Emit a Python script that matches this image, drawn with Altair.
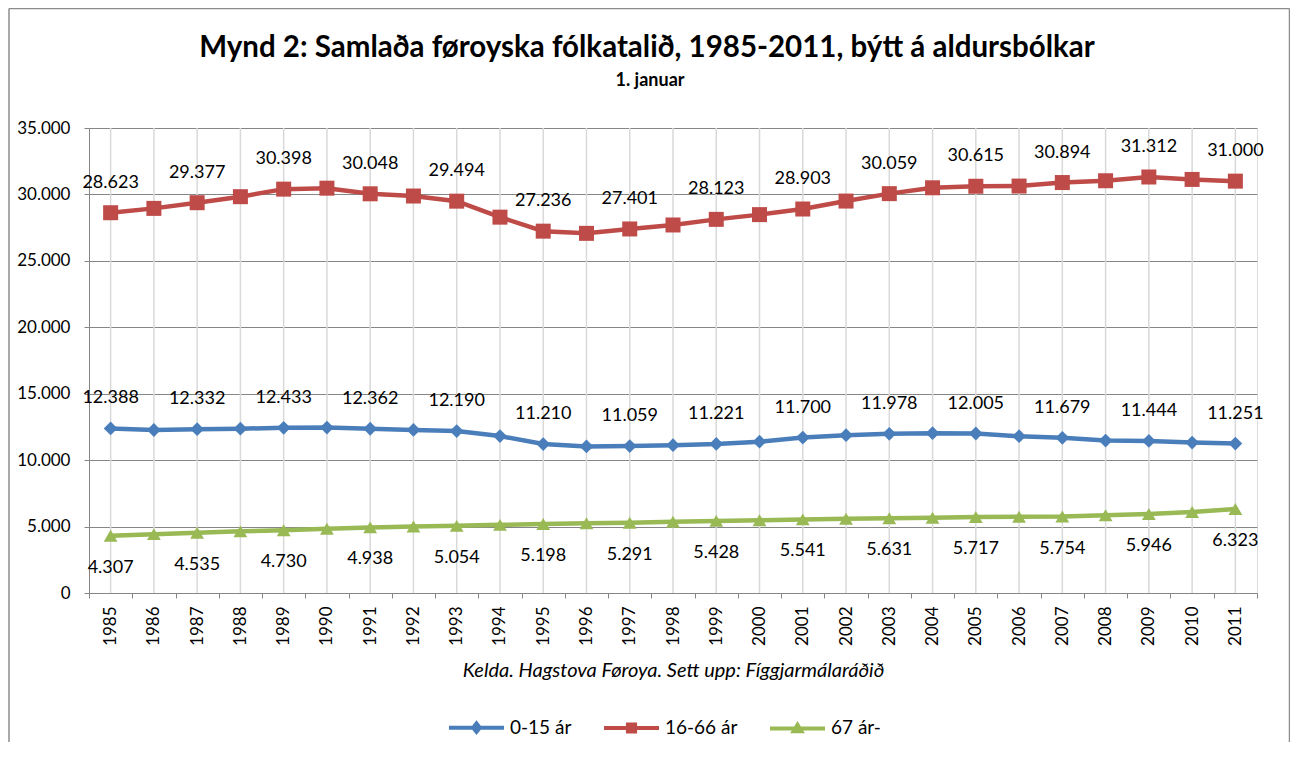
import altair as alt
import pandas as pd

years = list(range(1985, 2012))
series_names = ["0-15 ár", "16-66 ár", "67 ár-"]
colors = ["#4A7EBB", "#BE4B48", "#98B954"]
marker_shapes = ["diamond", "square", "triangle-up"]

youth = [12388, 12270, 12332, 12370, 12433, 12450, 12362, 12275, 12190, 11810,
         11210, 11030, 11059, 11130, 11221, 11390, 11700, 11880, 11978, 12030,
         12005, 11800, 11679, 11470, 11444, 11320, 11251]
working = [28623, 28950, 29377, 29830, 30398, 30470, 30048, 29880, 29494, 28290,
           27236, 27070, 27401, 27700, 28123, 28480, 28903, 29500, 30059, 30500,
           30615, 30630, 30894, 31030, 31312, 31130, 31000]
elderly = [4307, 4430, 4535, 4640, 4730, 4840, 4938, 5000, 5054, 5130,
           5198, 5250, 5291, 5360, 5428, 5480, 5541, 5590, 5631, 5670,
           5717, 5740, 5754, 5850, 5946, 6100, 6323]

y_ticks = list(range(0, 35001, 5000))

title_text = "Mynd 2: Samlaða føroyska fólkatalið, 1985-2011, býtt á aldursbólkar"
subtitle_text = "1. januar"
source_text = "Kelda. Hagstova Føroya. Sett upp: Fíggjarmálaráðið"

rows = []
for name, vals in zip(series_names, [youth, working, elderly]):
    for yr, v in zip(years, vals):
        lab = f"{v:,}".replace(",", ".") if yr % 2 == 1 else ""
        rows.append({"year": str(yr), "series": name, "value": v, "label": lab})
df = pd.DataFrame(rows)
years_df = pd.DataFrame({"year": [str(y) for y in years]})

FONT = "Lato"
GRID = "#868686"

x_enc = alt.X(
    "year:O",
    scale=alt.Scale(type="band", paddingInner=0, paddingOuter=0),
    axis=alt.Axis(
        title=source_text, titleFont=FONT, titleFontSize=20, titleFontStyle="italic",
        titleFontWeight="normal", titleColor="black", titlePadding=15,
        labelAngle=270, labelFont=FONT, labelFontSize=17, labelColor="black",
        labelPadding=8, tickBand="extent", ticks=True, tickSize=5,
        tickColor=GRID, domainColor=GRID, grid=False,
    ),
)
y_enc = alt.Y(
    "value:Q",
    scale=alt.Scale(domain=[0, 35000], nice=False),
    axis=alt.Axis(
        values=y_ticks, labelExpr="replace(format(datum.value, ','), ',', '.')",
        title=None, grid=True, gridColor=GRID, domainColor=GRID, tickColor=GRID,
        tickSize=5, labelFont=FONT, labelFontSize=17, labelColor="black", labelPadding=14,
    ),
)

legend = alt.Legend(
    title=None, orient="none", legendX=358, legendY=570, direction="horizontal",
    symbolSize=3025, symbolStrokeWidth=4, labelFont=FONT, labelFontSize=19,
    labelColor="black", labelOffset=4, columnPadding=24, padding=0,
)
color_enc = alt.Color("series:N", scale=alt.Scale(domain=series_names, range=colors),
                      legend=legend)

# legend-only layer (no rows drawn): line + marker symbols via shape scale
legend_paths = [
    "M-1,0L1,0M0,-0.15L0.12,0L0,0.15L-0.12,0ZM0,-0.06L0.05,0L0,0.06L-0.05,0Z",
    "M-1,0L1,0M-0.13,-0.13L0.13,-0.13L0.13,0.13L-0.13,0.13ZM-0.05,-0.05L0.05,-0.05L0.05,0.05L-0.05,0.05Z",
    "M-1,0L1,0M0,-0.13L0.14,0.1L-0.14,0.1ZM0,-0.03L0.05,0.05L-0.05,0.05Z",
]
legend_layer = alt.Chart(df).transform_filter("false").mark_point(
    filled=False, strokeWidth=4, opacity=1
).encode(
    x=x_enc, y=y_enc, color=color_enc,
    shape=alt.Shape("series:N", scale=alt.Scale(domain=series_names, range=legend_paths),
                    legend=legend),
)

vrules = alt.Chart(years_df).mark_rule(color="#d9d9d9", strokeWidth=1.5).encode(x=x_enc)

lines = alt.Chart(df).mark_line(strokeWidth=4.5).encode(
    x=x_enc, y=y_enc, color=color_enc, detail="series:N"
)

marker_layers = []
for name, shp, sz in zip(series_names, marker_shapes, [190, 225, 190]):
    marker_layers.append(
        alt.Chart(df).transform_filter(alt.datum.series == name).mark_point(
            filled=True, opacity=1, size=sz, shape=shp
        ).encode(x=x_enc, y=y_enc, color=color_enc)
    )

labels_up = alt.Chart(df).transform_filter(
    "datum.label != '' && datum.series != '67 ár-'"
).mark_text(dy=-30, font=FONT, fontSize=18, color="black").encode(
    x=x_enc, y=y_enc, text="label:N"
)
labels_down = alt.Chart(df).transform_filter(
    "datum.label != '' && datum.series == '67 ár-'"
).mark_text(dy=32, font=FONT, fontSize=18, color="black").encode(
    x=x_enc, y=y_enc, text="label:N"
)

one = alt.Data(values=[{"k": 1}])
title_mark = alt.Chart(one).mark_text(
    text=title_text, font=FONT, fontSize=29.5, fontWeight="bold", color="black",
    align="center", baseline="alphabetic",
).encode(x=alt.value(558), y=alt.value(-71))
subtitle_mark = alt.Chart(one).mark_text(
    text=subtitle_text, font=FONT, fontSize=18, fontWeight="bold", color="black",
    align="center", baseline="alphabetic",
).encode(x=alt.value(561), y=alt.value(-42))

BORDER = "#8c8c8c"
border_left = alt.Chart(one).mark_rule(color=BORDER, strokeWidth=1.5).encode(
    x=alt.value(-80), y=alt.value(-119.5), y2=alt.value(614))
border_right = alt.Chart(one).mark_rule(color=BORDER, strokeWidth=1.5).encode(
    x=alt.value(1200.5), y=alt.value(-119.5), y2=alt.value(614))
border_top = alt.Chart(one).mark_rule(color=BORDER, strokeWidth=1.5).encode(
    x=alt.value(-80), x2=alt.value(1200.5), y=alt.value(-119.5))

chart = alt.layer(
    legend_layer, vrules, lines, *marker_layers, labels_up, labels_down,
    title_mark, subtitle_mark, border_left, border_right, border_top,
).properties(
    width=1168, height=465,
    autosize=alt.AutoSizeParams(type="none"),
    padding={"left": 81, "top": 120, "right": 33, "bottom": 150},
).configure_view(stroke=None).configure(background="white")

chart.save("out.html", embed_options={"renderer": "svg", "actions": False})
